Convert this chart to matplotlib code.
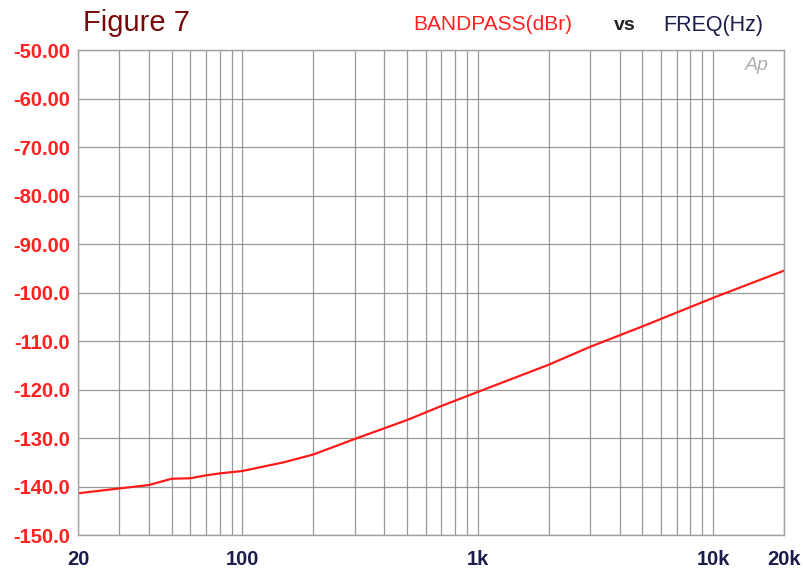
import numpy as np
import matplotlib
matplotlib.use('Agg')
import matplotlib.pyplot as plt
from matplotlib.ticker import FixedLocator, NullFormatter

# data
freq = [20, 30, 40, 50, 60, 70, 80, 100, 150, 200, 300, 500, 700,
        1000, 2000, 3000, 5000, 10000, 20000]
level = [-141.4, -140.4, -139.7, -138.4, -138.3, -137.7, -137.3, -136.8,
         -135.0, -133.4, -130.2, -126.3, -123.4, -120.5, -114.9, -111.2,
         -107.0, -101.1, -95.5]

y_ticks = [-50, -60, -70, -80, -90, -100, -110, -120, -130, -140, -150]
y_labels = ['-50.00', '-60.00', '-70.00', '-80.00', '-90.00', '-100.0',
            '-110.0', '-120.0', '-130.0', '-140.0', '-150.0']
x_ticks = [20, 100, 1000, 10000, 20000]
x_labels = ['20', '100', '1k', '10k', '20k']

plt.rcParams['font.family'] = ['Liberation Sans', 'DejaVu Sans']

fig = plt.figure(figsize=(8.04, 5.72), dpi=100)
ax = fig.add_axes([78 / 804, 37 / 572, 706 / 804, 485 / 572])

ax.plot(freq, level, color='#ff1a1a', lw=1.6)

ax.set_xscale('log')
ax.set_xlim(20, 20000)
ax.set_ylim(-150, -50)

ax.set_yticks(y_ticks)
ax.set_yticklabels(y_labels, color='#ff2020', fontsize=14.5, fontweight='bold')
ax.xaxis.set_major_locator(FixedLocator(x_ticks))
ax.set_xticklabels(x_labels, color='#1c1c4c', fontsize=14.5, fontweight='bold')
minor = [m * 10 ** d for d in (1, 2, 3) for m in range(2, 10)]
ax.xaxis.set_minor_locator(FixedLocator([f for f in minor if 20 < f < 20000]))
ax.xaxis.set_minor_formatter(NullFormatter())
ax.tick_params(axis='both', which='both', length=0)
ax.tick_params(axis='x', pad=11)
ax.tick_params(axis='y', pad=6)

ax.grid(True, which='both', color='#808080', lw=0.9, alpha=0.8)
for s in ax.spines.values():
    s.set_color('#a0a0a0')
    s.set_linewidth(1.0)

fig.text(83 / 804, 1 - 23 / 572, 'Figure 7', color='#7a0a0a', fontsize=21,
         va='center', ha='left')
fig.text(413 / 804, 1 - 25 / 572, 'BANDPASS(dBr)', color='#ff2020',
         fontsize=15, va='center', ha='left')
fig.text(614 / 804, 1 - 25 / 572, 'vs', color='#222222', fontsize=14,
         fontweight='bold', va='center', ha='left')
fig.text(663 / 804, 1 - 25 / 572, 'FREQ(Hz)', color='#1c1c4c', fontsize=15.5,
         va='center', ha='left')
ax.text(0.978, 0.985, 'Ap', transform=ax.transAxes, color='#b0b0b0',
        fontsize=14, style='italic', ha='right', va='top')

fig.savefig('out.png', dpi=100)
